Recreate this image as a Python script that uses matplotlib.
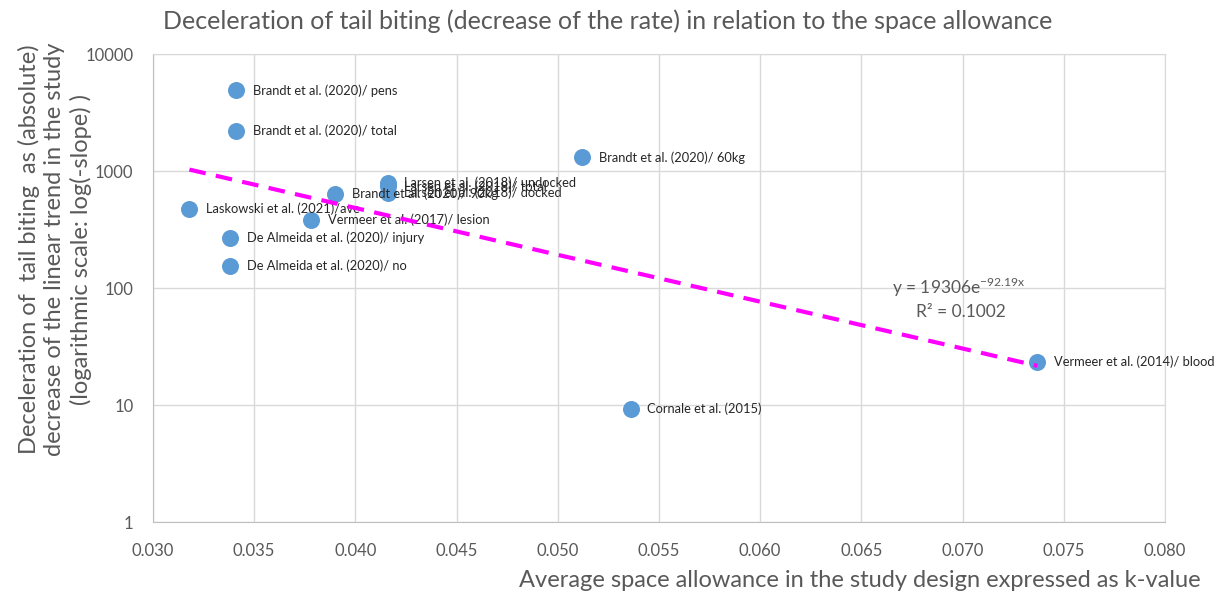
import numpy as np
import matplotlib
matplotlib.use('Agg')
import matplotlib.pyplot as plt

plt.rcParams['font.family'] = ['Lato', 'DejaVu Sans']

# data
labels = ['Brandt et al. (2020)/ pens', 'Brandt et al. (2020)/ total',
          'Brandt et al. (2020)/ 60kg', 'Larsen et al. (2018)/ undocked',
          'Larsen et al. (2018)/ total', 'Larsen et al. (2018)/ docked',
          'Brandt et al. (2020)/ 90kg', 'Laskowski et al. (2021)/ave',
          'Vermeer et al. (2017)/ lesion', 'De Almeida et al. (2020)/ injury',
          'De Almeida et al. (2020)/ no', 'Cornale et al. (2015)',
          'Vermeer et al. (2014)/ blood']
k_value = [0.0341, 0.0341, 0.0512, 0.0416, 0.0416, 0.0416, 0.0390,
           0.0318, 0.0378, 0.0338, 0.0338, 0.0536, 0.0737]
slope = [4900, 2200, 1310, 790, 740, 650, 640, 475, 380, 268, 154, 9.3, 23.5]

# exponential trend from the chart
trend_a = 19306
trend_b = -92.19
r2 = 0.1002

grey = '#595959'

fig = plt.figure(figsize=(12.16, 5.94), dpi=100)
ax = fig.add_axes([0.1258, 0.1212, 0.958 - 0.1258, 0.909 - 0.1212])

ax.set_yscale('log')
ax.set_xlim(0.030, 0.080)
ax.set_ylim(1, 10000)
xticks = np.arange(0.030, 0.0801, 0.005)
ax.set_xticks(xticks)
ax.set_xticklabels([f'{t:.3f}' for t in xticks])
ax.set_yticks([1, 10, 100, 1000, 10000])
ax.set_yticklabels(['1', '10', '100', '1000', '10000'])
ax.yaxis.set_minor_locator(matplotlib.ticker.NullLocator())
ax.tick_params(length=0, labelsize=12, colors=grey)
ax.tick_params(axis='x', pad=15)
ax.tick_params(axis='y', pad=14)
ax.grid(True, color='#D9D9D9', linewidth=1)
ax.set_axisbelow(True)
for s in ax.spines.values():
    s.set_color('#D9D9D9')
ax.spines['left'].set_color('#BFBFBF')
ax.spines['bottom'].set_color('#BFBFBF')

ax.scatter(k_value, slope, s=150, color='#5B9BD5', zorder=3, linewidths=0)

for x, y, t in zip(k_value, slope, labels):
    ax.annotate(t, (x, y), xytext=(12, 0), textcoords='offset points',
                va='center', ha='left', fontsize=9.3, color='#262626', zorder=4)

# trend line
xt = np.linspace(min(k_value), max(k_value), 100)
ax.plot(xt, trend_a * np.exp(trend_b * xt), color='#FF00FF', linewidth=3,
        linestyle=(0, (4, 2.5)), zorder=4)

ax.text(0.0698, 102, f'y = {trend_a}e$^{{\\mathregular{{{trend_b}x}}}}$', fontsize=12.5,
        color=grey, ha='center', va='center')
ax.text(0.0699, 63, f'R² = {r2:.4f}', fontsize=12.5, color=grey, ha='center', va='center')

fig.text(0.5, 0.965, 'Deceleration of tail biting (decrease of the rate) in relation to the space allowance',
         ha='center', va='center', fontsize=18, color=grey)
fig.text(0.987, 0.022, 'Average space allowance in the study design expressed as k-value',
         ha='right', va='center', fontsize=17, color=grey)
fig.text(0.045, 0.58, 'Deceleration of  tail biting  as (absolute)\ndecrease of the linear trend in the study\n(logarithmic scale: log(-slope) )',
         ha='center', va='center', rotation=90, fontsize=17, color=grey,
         multialignment='center', linespacing=1.25)

fig.savefig('out.png', dpi=100)
